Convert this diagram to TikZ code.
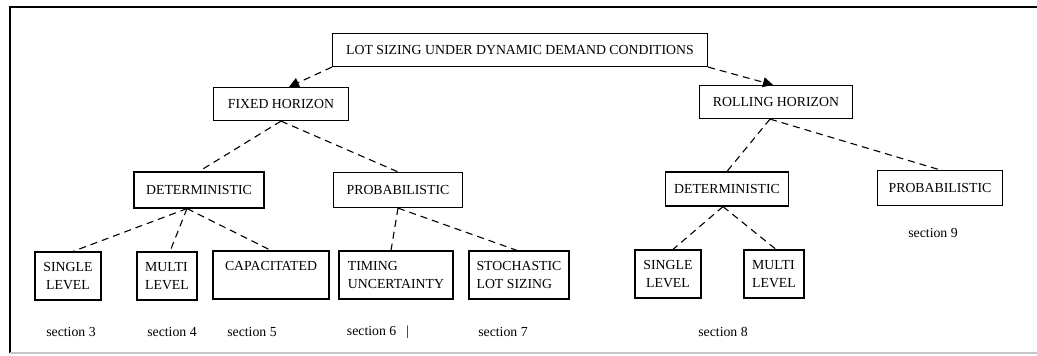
\documentclass[tikz,border=0pt]{standalone}
\usepackage{fontspec}
\setmainfont{Liberation Serif}
\usetikzlibrary{arrows.meta}

\begin{document}
\begin{tikzpicture}[
  x=0.5pt, y=-0.5pt,
  box/.style={rectangle, draw, line width=0.6pt, inner sep=1.5pt, align=center, font=\fontsize{6.9}{9}\selectfont},
  boxTop/.style={box, minimum height=16.5pt},
  boxLeaf/.style={box, minimum height=24pt},
  sec/.style={inner sep=0pt, font=\fontsize{6.9}{9}\selectfont},
  link/.style={dash pattern=on 3.5pt off 2.5pt, line width=0.55pt},
  arr/.style={link, -{Triangle[length=5pt,width=5pt]}}
]
\useasboundingbox (0,0) rectangle (1037,356);

% frame
\draw[line width=1.1pt] (1037,7) -- (10,7) -- (10,353);
\draw[gray!45, line width=0.7pt] (10,353) -- (1037,353);

% level 0 and 1
\node[boxTop, minimum width=187.5pt] (lot)  at (520,50)  {LOT SIZING UNDER DYNAMIC DEMAND CONDITIONS};
\node[boxTop, minimum width=67.5pt]  (fix)  at (281,104) {FIXED HORIZON};
\node[boxTop, minimum width=76.5pt]  (roll) at (776,102) {ROLLING HORIZON};

% level 2
\node[boxTop, minimum width=65pt, minimum height=18pt]   (detF)  at (199,190) {DETERMINISTIC};
\node[boxTop, minimum width=64.5pt, minimum height=17.5pt] (probF) at (398,190) {PROBABILISTIC};
\node[boxTop, minimum width=61.5pt, minimum height=17pt] (detR)  at (727,189) {DETERMINISTIC};
\node[boxTop, minimum width=62.5pt, minimum height=17.5pt] (probR) at (940,188) {PROBABILISTIC};

% level 3
\node[boxLeaf, minimum width=33pt]   (singF) at (68,276)  {SINGLE\\LEVEL};
\node[boxLeaf, minimum width=30pt, align=left] (multF) at (167,276) {MULTI\\LEVEL};
\node[boxLeaf, minimum width=58pt]   (cap)   at (271,275) {CAPACITATED\\\mbox{}};
\node[boxLeaf, minimum width=57pt, align=left] (tim) at (396,275) {TIMING\\UNCERTAINTY};
\node[boxLeaf, minimum width=50pt, align=left] (sto) at (519,275) {STOCHASTIC\\LOT SIZING};
\node[boxLeaf, minimum width=33pt]   (singR) at (668,274) {SINGLE\\LEVEL};
\node[boxLeaf, minimum width=30pt, align=left] (multR) at (774,274) {MULTI\\LEVEL};

% connectors
\draw[arr] (lot.south west) -- ([xshift=4pt]fix.north);
\draw[arr] (lot.south east) -- ([xshift=-1.5pt]roll.north);

\draw[link] (fix.south) -- (detF.north);
\draw[link] (fix.south) -- (probF.north);
\draw[link] ([xshift=-3pt]roll.south) -- (detR.north);
\draw[link] ([xshift=-3pt]roll.south) -- (probR.north);

\draw[link] ([xshift=-6pt]detF.south) -- ([xshift=2.5pt]singF.north);
\draw[link] ([xshift=-6pt]detF.south) -- ([xshift=1.5pt]multF.north);
\draw[link] ([xshift=-6pt]detF.south) -- (cap.north);
\draw[link] (probF.south) -- ([xshift=-2.5pt]tim.north);
\draw[link] (probF.south) -- ([xshift=-1pt]sto.north);
\draw[link] ([xshift=-2pt]detR.south) -- ([xshift=2.5pt]singR.north);
\draw[link] ([xshift=-2pt]detR.south) -- ([xshift=1pt]multR.north);

% section numbers
\node[sec] (s3) at (71,332)  {section 3};
\node[sec] (s4) at (172,332) {section 4};
\node[sec] (s5) at (252,332) {section 5};
\node[sec] (s6) at (378,332) {section 6\hspace{5pt}|};
\node[sec] (s7) at (503,332) {section 7};
\node[sec] (s8) at (723,332) {section 8};
\node[sec] (s9) at (933,233) {section 9};
\end{tikzpicture}
\end{document}
